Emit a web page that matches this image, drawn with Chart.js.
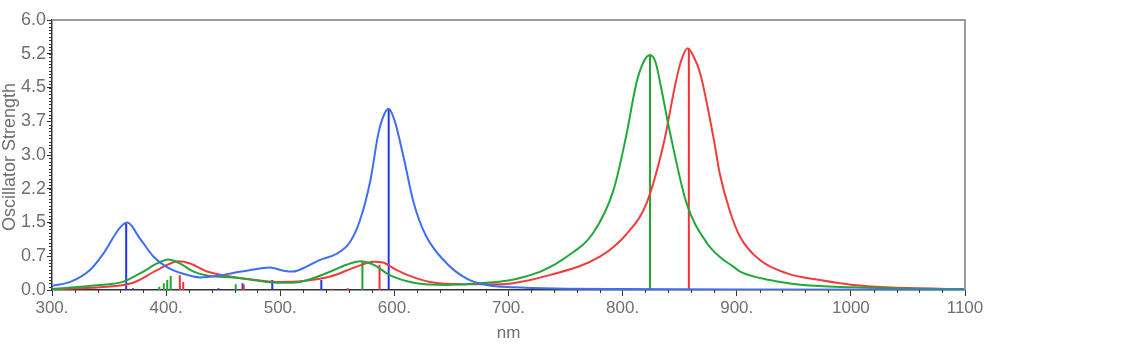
<!DOCTYPE html>
<html>
<head>
<meta charset="utf-8">
<script src="https://cdn.jsdelivr.net/npm/chart.js@4.4.1/dist/chart.umd.min.js"></script>
<style>
  html, body { margin: 0; padding: 0; background: #fff; }
  #wrap { width: 1136px; height: 362px; }
</style>
</head>
<body>
<div id="wrap"><canvas id="spec" width="1136" height="362"></canvas></div>
<script>
// spectra (nm, oscillator strength)
const blueNm = [300, 316, 333, 345, 357, 362, 366, 370, 375, 380, 389, 400, 415, 430, 444, 459, 473, 491, 503, 511, 523, 535, 549, 561, 570, 579, 586, 591, 595, 600, 608, 617, 628, 646, 663, 681, 704, 750, 800, 900, 1100];
const blueVal = [0.09, 0.18, 0.44, 0.81, 1.3, 1.45, 1.5, 1.42, 1.22, 1.04, 0.74, 0.52, 0.36, 0.28, 0.31, 0.38, 0.44, 0.5, 0.43, 0.41, 0.52, 0.67, 0.8, 1.06, 1.56, 2.44, 3.48, 3.9, 4.03, 3.78, 2.96, 1.93, 1.19, 0.59, 0.26, 0.11, 0.06, 0.03, 0.02, 0.01, 0.005];

const greenNm = [300, 342, 362, 380, 392, 402, 412, 424, 438, 459, 479, 500, 517, 544, 558, 570, 582, 596, 617, 646, 675, 700, 715, 730, 751, 774, 792, 803, 812, 818, 824, 829, 833, 841, 856, 874, 885, 897, 903, 929, 958, 1002, 1050, 1100];
const greenVal = [0.02, 0.11, 0.18, 0.41, 0.59, 0.68, 0.59, 0.41, 0.31, 0.28, 0.21, 0.16, 0.18, 0.41, 0.56, 0.64, 0.56, 0.33, 0.16, 0.11, 0.15, 0.21, 0.3, 0.43, 0.74, 1.26, 2.22, 3.41, 4.59, 5.05, 5.22, 5.05, 4.59, 3.56, 1.93, 1.04, 0.74, 0.52, 0.41, 0.22, 0.11, 0.06, 0.03, 0.02];

const redNm = [300, 342, 371, 392, 411, 421, 436, 453, 474, 497, 520, 544, 567, 582, 590, 602, 617, 631, 660, 693, 704, 736, 780, 804, 821, 836, 847, 852, 857, 862, 868, 880, 885, 894, 903, 920, 944, 973, 1002, 1031, 1100];
const redVal = [0.02, 0.06, 0.16, 0.44, 0.64, 0.59, 0.41, 0.31, 0.24, 0.18, 0.2, 0.3, 0.52, 0.63, 0.61, 0.44, 0.28, 0.18, 0.13, 0.13, 0.15, 0.33, 0.74, 1.26, 1.93, 3.26, 4.67, 5.15, 5.37, 5.2, 4.81, 3.33, 2.6, 1.75, 1.18, 0.67, 0.37, 0.22, 0.11, 0.06, 0.02];

// individual transitions (sticks)
const blueStickNm = [365, 371, 446, 467, 493, 536, 595];
const blueStickVal = [1.49, 0.04, 0.04, 0.15, 0.22, 0.22, 4.04];
const greenStickNm = [394, 398, 401, 404, 461, 572, 824];
const greenStickVal = [0.07, 0.15, 0.22, 0.31, 0.13, 0.62, 5.22];
const redStickNm = [412, 415, 468, 545, 559, 587, 858];
const redStickVal = [0.33, 0.18, 0.12, 0.03, 0.04, 0.56, 5.38];

const xTicks = [300, 400, 500, 600, 700, 800, 900, 1000, 1100];
const yTicks = [0, 0.75, 1.5, 2.25, 3, 3.75, 4.5, 5.25, 6];

const pts = (xs, ys) => xs.map((x, i) => ({ x: x, y: ys[i] }));
const sticks = (xs, ys) => {
  const out = [];
  xs.forEach((x, i) => { out.push({ x: x, y: 0 }, { x: x, y: ys[i] }, { x: x, y: null }); });
  return out;
};

const curve = (data, color) => ({
  data: data, borderColor: color, borderWidth: 2, pointRadius: 0,
  cubicInterpolationMode: 'monotone', fill: false
});
const stick = (data, color) => ({
  data: data, borderColor: color, borderWidth: 2, pointRadius: 0,
  tension: 0, spanGaps: false, fill: false
});

const textColor = '#707070';

const extras = {
  id: 'extras',
  afterDraw(chart) {
    const { ctx, chartArea: a, scales } = chart;
    ctx.save();
    // frame top/right
    ctx.strokeStyle = '#9a9a9a';
    ctx.lineWidth = 2;
    ctx.beginPath();
    ctx.moveTo(a.left, a.top);
    ctx.lineTo(a.right, a.top);
    ctx.lineTo(a.right, a.bottom);
    ctx.stroke();
    // minor ticks
    ctx.strokeStyle = '#333';
    ctx.lineWidth = 1;
    ctx.beginPath();
    for (let v = 320; v < 1100; v += 20) {
      if (v % 100 === 0) continue;
      const px = Math.round(scales.x.getPixelForValue(v)) + 0.5;
      ctx.moveTo(px, a.bottom);
      ctx.lineTo(px, a.bottom + 3);
    }
    for (let i = 1; i < 80; i++) {
      const py = Math.round(scales.y.getPixelForValue(i * 0.075)) + 0.5;
      ctx.moveTo(a.left - 3, py);
      ctx.lineTo(a.left, py);
    }
    ctx.stroke();
    // axis titles
    ctx.fillStyle = textColor;
    ctx.font = '17px "Liberation Sans", Arial, sans-serif';
    ctx.textAlign = 'center';
    ctx.textBaseline = 'middle';
    ctx.fillText('nm', (a.left + a.right) / 2, 333);
    ctx.translate(10, 157);
    ctx.rotate(-Math.PI / 2);
    ctx.font = '18px "Liberation Sans", Arial, sans-serif';
    ctx.fillText('Oscillator Strength', 0, 0);
    ctx.restore();
  }
};

new Chart(document.getElementById('spec'), {
  type: 'line',
  data: {
    datasets: [
      curve(pts(blueNm, blueVal), '#3f6ff0'),
      curve(pts(greenNm, greenVal), '#22a83a'),
      curve(pts(redNm, redVal), '#f23c3c'),
      stick(sticks(greenStickNm, greenStickVal), '#1fa82e'),
      stick(sticks(redStickNm, redStickVal), '#f23232'),
      stick(sticks(blueStickNm, blueStickVal), '#2136ee')
    ]
  },
  options: {
    responsive: false,
    animation: false,
    events: [],
    layout: { padding: { left: 0, right: 171, top: 20, bottom: 0 } },
    plugins: { legend: { display: false }, tooltip: { enabled: false } },
    scales: {
      x: {
        type: 'linear', min: 300, max: 1100,
        afterBuildTicks: (s) => { s.ticks = xTicks.map(v => ({ value: v })); },
        afterFit: (s) => { s.height = 72; },
        grid: { drawOnChartArea: false, tickLength: 6, tickColor: '#333' },
        border: { color: '#333', width: 1.5 },
        ticks: {
          color: textColor, padding: 2, maxRotation: 0,
          font: { family: '"Liberation Sans", Arial, sans-serif', size: 17 },
          callback: (v) => v < 1000 ? v + '.' : String(v)
        }
      },
      y: {
        min: 0, max: 6,
        afterBuildTicks: (s) => { s.ticks = yTicks.map(v => ({ value: v })); },
        afterFit: (s) => { s.width = 52; },
        grid: { drawOnChartArea: false, tickLength: 5, tickColor: '#333' },
        border: { color: '#333', width: 1.5 },
        ticks: {
          color: textColor, padding: 1,
          font: { family: '"Liberation Sans", Arial, sans-serif', size: 18 },
          callback: (v) => (Math.floor(v * 10 + 1e-6) / 10).toFixed(1)
        }
      }
    }
  },
  plugins: [extras]
});
</script>
</body>
</html>
